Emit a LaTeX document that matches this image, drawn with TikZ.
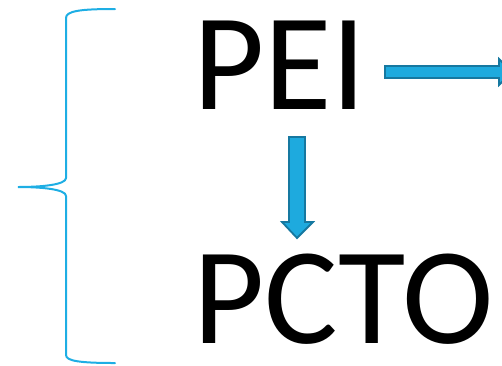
\documentclass[tikz,border=0pt]{standalone}
\usepackage{fontspec}
\setmainfont{Carlito}
\definecolor{bracecol}{RGB}{30,174,228}
\definecolor{arrowfill}{RGB}{30,170,222}
\definecolor{arrowline}{RGB}{22,120,160}
\begin{document}
\begin{tikzpicture}[x=1pt,y=-1pt,
  bigtext/.style={inner sep=0pt,anchor=base west,font=\fontsize{138}{138}\selectfont},
  blockarrow/.style={fill=arrowfill,draw=arrowline,line width=1.8pt,line join=miter},
  bracestyle/.style={draw=bracecol,line width=2pt,line cap=round}]
\useasboundingbox (0,0) rectangle (502,365);
\node[bigtext] (pei) at (193,109) {PEI};
\node[bigtext] (pcto) at (193,343) {PCTO};
\coordinate (offright) at (512,72);
% brace
\draw[bracestyle] (115,9) .. controls (80,9) and (66,11) .. (66,18) -- (66,178)
  .. controls (66,185) and (40,187) .. (18,187)
  .. controls (40,187) and (66,189) .. (66,196) -- (66,355)
  .. controls (66,361) and (80,363) .. (115,363);
% right arrow
\draw[blockarrow] (385,66) -- (499,66) -- (499,59) -- (offright) -- (499,85) -- (499,78) -- (385,78) -- cycle;
% down arrow
\draw[blockarrow] (289,137) -- (305,137) -- (305,222) -- (313,222) -- (297,238) -- (282,222) -- (289,222) -- cycle;
\end{tikzpicture}
\end{document}
